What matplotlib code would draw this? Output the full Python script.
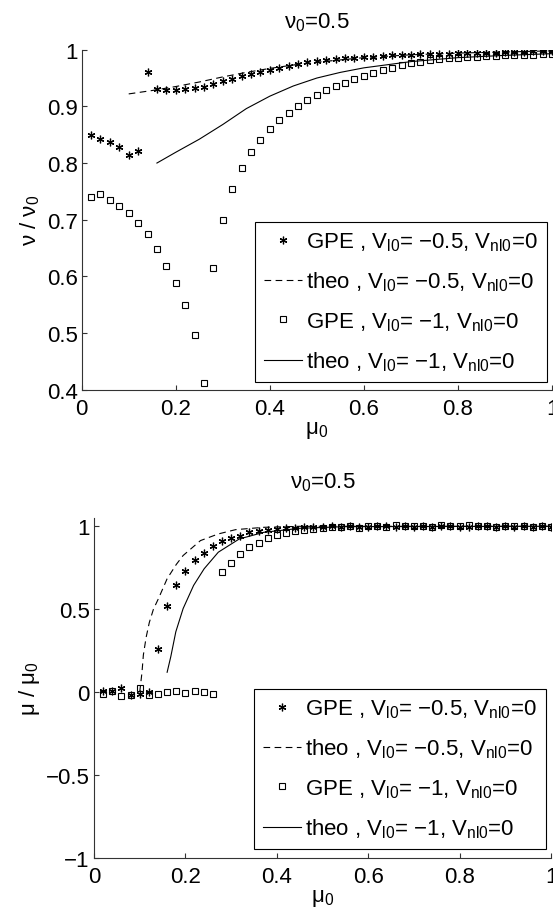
import numpy as np
import matplotlib
matplotlib.use("Agg")
import matplotlib.pyplot as plt
from matplotlib.ticker import FuncFormatter

plt.rcParams['font.family'] = ['Liberation Sans', 'DejaVu Sans']
plt.rcParams['mathtext.default'] = 'regular'
plt.rcParams['font.size'] = 16

# GPE sample points (mu0 grid)
mu0 = [0.02, 0.04, 0.06, 0.08, 0.10, 0.12, 0.14, 0.16, 0.18, 0.20,
       0.22, 0.24, 0.26, 0.28, 0.30, 0.32, 0.34, 0.36, 0.38, 0.40,
       0.42, 0.44, 0.46, 0.48, 0.50, 0.52, 0.54, 0.56, 0.58, 0.60,
       0.62, 0.64, 0.66, 0.68, 0.70, 0.72, 0.74, 0.76, 0.78, 0.80,
       0.82, 0.84, 0.86, 0.88, 0.90, 0.92, 0.94, 0.96, 0.98, 1.00]

# top panel: nu / nu0
nu_gpe_05 = [0.850, 0.843, 0.838, 0.829, 0.815, 0.822, 0.961, 0.931, 0.929, 0.929,
             0.931, 0.933, 0.935, 0.939, 0.944, 0.949, 0.954, 0.958, 0.961, 0.965,
             0.968, 0.972, 0.975, 0.978, 0.980, 0.982, 0.984, 0.985, 0.986, 0.987,
             0.988, 0.989, 0.990, 0.991, 0.991, 0.992, 0.992, 0.993, 0.993, 0.994,
             0.994, 0.995, 0.995, 0.995, 0.996, 0.996, 0.996, 0.997, 0.997, 0.997]
nu_gpe_1 = [0.740, 0.746, 0.734, 0.725, 0.711, 0.695, 0.675, 0.648, 0.619, 0.588,
            0.550, 0.496, 0.412, 0.614, 0.700, 0.754, 0.791, 0.819, 0.841, 0.860,
            0.876, 0.889, 0.901, 0.911, 0.920, 0.929, 0.936, 0.942, 0.948, 0.953,
            0.959, 0.964, 0.968, 0.973, 0.976, 0.979, 0.982, 0.984, 0.985, 0.986,
            0.987, 0.988, 0.989, 0.989, 0.990, 0.990, 0.991, 0.991, 0.992, 0.992]

nu_theo_05_x = [0.10, 0.15, 0.20, 0.25, 0.30, 0.35, 0.40, 0.45, 0.50, 0.60, 0.70, 0.80, 0.90, 1.00]
nu_theo_05_y = [0.922, 0.928, 0.935, 0.943, 0.952, 0.960, 0.967, 0.973, 0.978, 0.986, 0.991, 0.994, 0.996, 0.998]
nu_theo_1_x = [0.16, 0.20, 0.25, 0.30, 0.35, 0.40, 0.45, 0.50, 0.55, 0.60, 0.70, 0.80, 0.90, 1.00]
nu_theo_1_y = [0.800, 0.819, 0.842, 0.868, 0.896, 0.918, 0.936, 0.950, 0.960, 0.968, 0.979, 0.986, 0.990, 0.993]

# bottom panel: mu / mu0
mu_gpe_05 = [0.006, 0.010, 0.024, -0.020, -0.010, 0.000, 0.260, 0.520, 0.644, 0.730,
             0.794, 0.840, 0.884, 0.910, 0.930, 0.944, 0.964, 0.974, 0.980, 0.984,
             0.988, 0.992, 0.994, 0.996, 0.998, 1.000, 0.996, 1.002, 0.998, 0.994,
             1.004, 1.000, 0.996, 1.002, 0.998, 1.000, 0.996, 1.004, 1.000, 0.998,
             0.994, 1.002, 1.000, 0.996, 1.000, 0.998, 1.002, 0.996, 1.000, 0.998]
mu_gpe_1 = [-0.014, 0.010, -0.024, -0.016, 0.026, -0.016, -0.010, 0.000, 0.010, -0.004,
            0.010, 0.000, -0.010, 0.724, 0.778, 0.832, 0.876, 0.902, 0.930, 0.948,
            0.960, 0.970, 0.978, 0.984, 0.990, 0.994, 0.996, 1.000, 0.992, 1.004,
            1.002, 0.998, 1.006, 1.002, 1.000, 1.004, 0.996, 1.008, 1.000, 1.002,
            1.010, 1.002, 1.000, 0.998, 1.002, 1.004, 1.000, 0.998, 1.002, 0.996]

mu_theo_05_x = [0.100, 0.105, 0.108, 0.114, 0.121, 0.130, 0.141, 0.160, 0.180, 0.195, 0.233, 0.272, 0.310, 0.372, 0.45, 1.00]
mu_theo_05_y = [0.000, 0.120, 0.224, 0.330, 0.420, 0.500, 0.564, 0.684, 0.770, 0.824, 0.914, 0.954, 0.980, 0.994, 1.000, 1.000]
mu_theo_1_x = [0.160, 0.168, 0.179, 0.195, 0.218, 0.241, 0.272, 0.318, 0.372, 0.45, 0.55, 1.00]
mu_theo_1_y = [0.120, 0.214, 0.364, 0.504, 0.644, 0.744, 0.844, 0.924, 0.964, 0.988, 0.998, 1.000]

labels = ['GPE , V$_{l0}$= \u22120.5, V$_{nl0}$=0',
          'theo , V$_{l0}$= \u22120.5, V$_{nl0}$=0',
          'GPE , V$_{l0}$= \u22121, V$_{nl0}$=0',
          'theo , V$_{l0}$= \u22121, V$_{nl0}$=0']


def fmt(v, pos):
    return ('%g' % v).replace('-', '\u2212')


def style_axes(ax):
    for s in ['top', 'right']:
        ax.spines[s].set_visible(False)
    for s in ['left', 'bottom']:
        ax.spines[s].set_color('#333333')
        ax.spines[s].set_linewidth(0.8)
    ax.tick_params(direction='in', length=3.5, width=0.8, color='#333333', labelsize=16)
    ax.tick_params(axis='x', pad=6)
    ax.tick_params(axis='y', pad=3)
    ax.xaxis.set_major_formatter(FuncFormatter(fmt))
    ax.yaxis.set_major_formatter(FuncFormatter(fmt))


def draw(ax, xg, g05, g1, t05x, t05y, t1x, t1y):
    star = (6, 2, 0)
    ax.plot(xg, g05, ls='none', marker=star, ms=5.5, mew=0.9, color='black', label=labels[0])
    ax.plot(t05x, t05y, ls=(0, (6, 4)), lw=0.8, color='black', label=labels[1])
    ax.plot(xg, g1, ls='none', marker='s', ms=4.5, mew=0.8, mfc='none', mec='black', label=labels[2])
    ax.plot(t1x, t1y, ls='-', lw=0.8, color='black', label=labels[3])


def add_legend(ax, anchor):
    leg = ax.legend(loc='lower right', bbox_to_anchor=anchor, borderaxespad=0,
                    fontsize=16, handlelength=1.7, handletextpad=0.2, borderpad=0.4,
                    labelspacing=0.75, fancybox=False, framealpha=1, edgecolor='black')
    leg.get_frame().set_linewidth(0.8)
    return leg


fig = plt.figure(figsize=(5.53, 9.12), dpi=100)

ax1 = fig.add_axes([0.1477, 0.5716, 0.8505, 0.3728])
draw(ax1, mu0, nu_gpe_05, nu_gpe_1, nu_theo_05_x, nu_theo_05_y, nu_theo_1_x, nu_theo_1_y)
ax1.set_xlim(0, 1)
ax1.set_ylim(0.4, 1)
ax1.set_xticks([0, 0.2, 0.4, 0.6, 0.8, 1])
ax1.set_yticks([0.4, 0.5, 0.6, 0.7, 0.8, 0.9, 1])
style_axes(ax1)
ax1.set_title('\u03bd$_0$=0.5', fontsize=16, pad=16)
ax1.set_xlabel('\u03bc$_0$', fontsize=16, labelpad=0)
ax1.set_ylabel('\u03bd / \u03bd$_0$', fontsize=16, labelpad=3)
add_legend(ax1, (0.989, 0.023))

ax2 = fig.add_axes([0.170, 0.0581, 0.8264, 0.3728])
draw(ax2, mu0, mu_gpe_05, mu_gpe_1, mu_theo_05_x, mu_theo_05_y, mu_theo_1_x, mu_theo_1_y)
ax2.set_xlim(0, 1)
ax2.set_ylim(-1, 1.05)
ax2.set_xticks([0, 0.2, 0.4, 0.6, 0.8, 1])
ax2.set_yticks([-1, -0.5, 0, 0.5, 1])
style_axes(ax2)
ax2.set_title('\u03bd$_0$=0.5', fontsize=16, pad=22)
ax2.set_xlabel('\u03bc$_0$', fontsize=16, labelpad=0)
ax2.set_ylabel('\u03bc / \u03bc$_0$', fontsize=16, labelpad=3)
add_legend(ax2, (0.989, 0.027))

fig.savefig('out.png', dpi=100)
